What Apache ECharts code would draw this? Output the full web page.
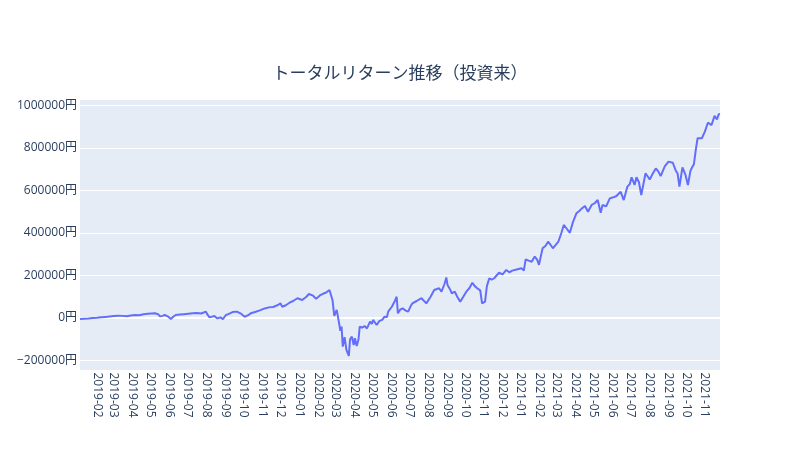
<!DOCTYPE html>
<html lang="ja">
<head>
    <meta charset="UTF-8">
    <script src="https://cdn.jsdelivr.net/npm/echarts@6/dist/echarts.min.js"></script>
    <title>トータルリターン推移</title>
    <style>
        body { margin: 0; background: #fff; }
    </style>
</head>
<body>
    <div id="total-return" style="width: 800px;height:450px;"></div>
</body>
<script type="text/javascript">
    // 日付と累計リターン（円）
    var dates = [
        '2019-01-04','2019-01-11','2019-01-18','2019-01-25','2019-02-01','2019-02-08','2019-02-15','2019-02-22',
        '2019-03-01','2019-03-08','2019-03-15','2019-03-22','2019-03-29','2019-04-05','2019-04-12','2019-04-19',
        '2019-04-26','2019-05-08','2019-05-13','2019-05-16','2019-05-20','2019-05-24','2019-05-29','2019-06-03',
        '2019-06-07','2019-06-11','2019-06-18','2019-06-25','2019-07-02','2019-07-09','2019-07-16','2019-07-23',
        '2019-07-31','2019-08-02','2019-08-06','2019-08-09','2019-08-14','2019-08-19','2019-08-24','2019-08-28',
        '2019-09-02','2019-09-06','2019-09-13','2019-09-20','2019-09-26','2019-10-03','2019-10-08','2019-10-13',
        '2019-10-20','2019-10-28','2019-11-05','2019-11-12','2019-11-19','2019-11-27','2019-12-01','2019-12-04',
        '2019-12-10','2019-12-16','2019-12-22','2019-12-29','2020-01-06','2020-01-09','2020-01-13','2020-01-17',
        '2020-01-24','2020-01-29','2020-02-01','2020-02-05','2020-02-10','2020-02-14','2020-02-20','2020-02-25',
        '2020-02-28','2020-03-03','2020-03-06','2020-03-09','2020-03-11','2020-03-13','2020-03-16','2020-03-19',
        '2020-03-23','2020-03-25','2020-03-28','2020-03-31','2020-04-02','2020-04-05','2020-04-08','2020-04-10',
        '2020-04-14','2020-04-18','2020-04-22','2020-04-27','2020-04-30','2020-05-02','2020-05-08','2020-05-12',
        '2020-05-17','2020-05-21','2020-05-25','2020-05-27','2020-05-30','2020-06-02','2020-06-07','2020-06-10',
        '2020-06-12','2020-06-16','2020-06-20','2020-06-25','2020-06-29','2020-07-03','2020-07-06','2020-07-13',
        '2020-07-21','2020-07-29','2020-08-05','2020-08-11','2020-08-19','2020-08-23','2020-08-28','2020-08-31',
        '2020-09-02','2020-09-07','2020-09-09','2020-09-14','2020-09-18','2020-09-23','2020-09-28','2020-10-03',
        '2020-10-08','2020-10-13','2020-10-17','2020-10-21','2020-10-26','2020-10-29','2020-11-03','2020-11-06',
        '2020-11-10','2020-11-14','2020-11-18','2020-11-22','2020-11-26','2020-12-02','2020-12-08','2020-12-13',
        '2020-12-18','2020-12-25','2021-01-02','2021-01-06','2021-01-09','2021-01-14','2021-01-19','2021-01-24',
        '2021-01-28','2021-01-31','2021-02-06','2021-02-11','2021-02-15','2021-02-19','2021-02-23','2021-02-26',
        '2021-03-04','2021-03-09','2021-03-13','2021-03-18','2021-03-23','2021-03-28','2021-04-03','2021-04-08',
        '2021-04-12','2021-04-17','2021-04-22','2021-04-28','2021-05-03','2021-05-08','2021-05-13','2021-05-16',
        '2021-05-22','2021-05-28','2021-06-03','2021-06-08','2021-06-15','2021-06-20','2021-06-26','2021-06-30',
        '2021-07-03','2021-07-08','2021-07-11','2021-07-15','2021-07-19','2021-07-26','2021-08-02','2021-08-07',
        '2021-08-12','2021-08-16','2021-08-20','2021-08-27','2021-09-02','2021-09-09','2021-09-14','2021-09-17',
        '2021-09-20','2021-09-25','2021-09-30','2021-10-04','2021-10-08','2021-10-10','2021-10-14','2021-10-17',
        '2021-10-20','2021-10-27','2021-11-01','2021-11-06','2021-11-12','2021-11-17','2021-11-21','2021-11-24',
        '2021-11-26'
    ];
    var returns = [
        -5000, -3000, -2000, 0, 1000, 3000, 5000, 7000,
        9000, 11000, 10000, 8000, 12000, 14000, 13000, 18000,
        20000, 22000, 18000, 8000, 10000, 14000, 8000, -5000,
        6000, 14000, 16000, 18000, 20000, 22000, 24000, 21000,
        30000, 18000, 3000, 8000, 9000, -2000, 3000, -5000,
        14000, 18000, 28000, 30000, 22000, 6000, 12000, 22000,
        28000, 36000, 45000, 50000, 52000, 61000, 69000, 53000,
        60000, 72000, 80000, 93000, 85000, 77000, 100000, 113000,
        105000, 90000, 82000, 108000, 115000, 119000, 132000, 85000,
        10000, 38000, -10000, -60000, -40000, -135000, -90000, -150000,
        -178000, -100000, -88000, -127000, -95000, -132000, -100000, -41000,
        -45000, -38000, -49000, -17000, -28000, -9000, -33000, -15000,
        -9000, 6000, 5000, 30000, 38000, 53000, 80000, 100000,
        22000, 40000, 45000, 35000, 30000, 55000, 69000, 80000,
        93000, 69000, 100000, 132000, 140000, 124000, 160000, 191000,
        155000, 130000, 116000, 124000, 100000, 77000, 100000, 124000,
        140000, 166000, 150000, 140000, 130000, 69000, 77000, 150000,
        187000, 180000, 187000, 200000, 213000, 205000, 226000, 215000,
        223000, 228000, 234000, 223000, 276000, 270000, 265000, 289000,
        275000, 250000, 328000, 340000, 359000, 345000, 328000, 320000,
        359000, 400000, 438000, 420000, 401000, 450000, 493000, 505000,
        516000, 527000, 500000, 532000, 540000, 555000, 495000, 532000,
        525000, 563000, 568000, 574000, 594000, 555000, 618000, 630000,
        662000, 626000, 662000, 640000, 579000, 681000, 652000, 680000,
        704000, 690000, 668000, 715000, 736000, 731000, 693000, 680000,
        618000, 709000, 673000, 626000, 690000, 704000, 725000, 791000,
        846000, 846000, 877000, 919000, 908000, 951000, 935000, 960000,
        958000
    ];
    // x軸の目盛（毎月1日）
    var monthTicks = [
        '2019-02','2019-03','2019-04','2019-05','2019-06','2019-07','2019-08','2019-09',
        '2019-10','2019-11','2019-12','2020-01','2020-02','2020-03','2020-04','2020-05',
        '2020-06','2020-07','2020-08','2020-09','2020-10','2020-11','2020-12','2021-01',
        '2021-02','2021-03','2021-04','2021-05','2021-06','2021-07','2021-08','2021-09',
        '2021-10','2021-11'
    ];
    var yTicks = [-200000, 1000000, 200000]; // min, max, interval

    function toTime(s) {
        var p = s.split('-');
        return Date.UTC(+p[0], +p[1] - 1, p[2] ? +p[2] : 1);
    }

    var points = [];
    for (var i = 0; i < dates.length; i++) {
        points.push([toTime(dates[i]), returns[i]]);
    }
    var monthValues = monthTicks.map(toTime);

    var chart = echarts.init(document.getElementById('total-return'));
    var txt = '#2a3f5f';

    chart.setOption({
        animation: false,
        textStyle: {
            fontFamily: '"Open Sans", "Noto Sans CJK JP", sans-serif'
        },
        title: {
            text: 'トータルリターン推移（投資来）',
            left: 'center',
            top: 61,
            textStyle: {
                fontSize: 17,
                fontWeight: 'normal',
                color: txt,
                fontFamily: '"Open Sans", "Noto Sans CJK JP", sans-serif'
            }
        },
        // プロット背景（plotlyっぽく）
        graphic: [{
            type: 'rect',
            left: 80,
            top: 100,
            z: -10,
            silent: true,
            shape: {width: 640, height: 270},
            style: {fill: '#e5ecf6'}
        }],
        grid: {
            left: 80,
            right: 80,
            top: 105.5,
            bottom: 89.5
        },
        xAxis: {
            type: 'value',
            min: toTime(dates[0]),
            max: toTime(dates[dates.length - 1]),
            axisLine: {show: false},
            axisTick: {show: false},
            splitLine: {show: false},
            axisLabel: {
                customValues: monthValues,
                rotate: -90,
                margin: 12,
                fontSize: 12,
                color: txt,
                hideOverlap: false,
                formatter: function (v) {
                    var k = monthValues.indexOf(v);
                    return k >= 0 ? monthTicks[k] : '';
                }
            }
        },
        yAxis: {
            type: 'value',
            min: yTicks[0],
            max: yTicks[1],
            interval: yTicks[2],
            axisLine: {show: false},
            axisTick: {show: false},
            splitLine: {lineStyle: {color: '#ffffff', width: 1}},
            axisLabel: {
                margin: 3,
                fontSize: 12,
                color: txt,
                formatter: function (v) {
                    return (v < 0 ? '\u2212' + Math.abs(v) : v) + '円';
                }
            }
        },
        series: [{
            type: 'line',
            data: points,
            showSymbol: false,
            lineStyle: {color: '#636efa', width: 2},
            itemStyle: {color: '#636efa'},
            markLine: {
                silent: true,
                symbol: 'none',
                label: {show: false},
                lineStyle: {color: '#ffffff', width: 2, type: 'solid'},
                z: 1,
                data: [{yAxis: 0}]
            }
        }]
    });
</script>
</html>
